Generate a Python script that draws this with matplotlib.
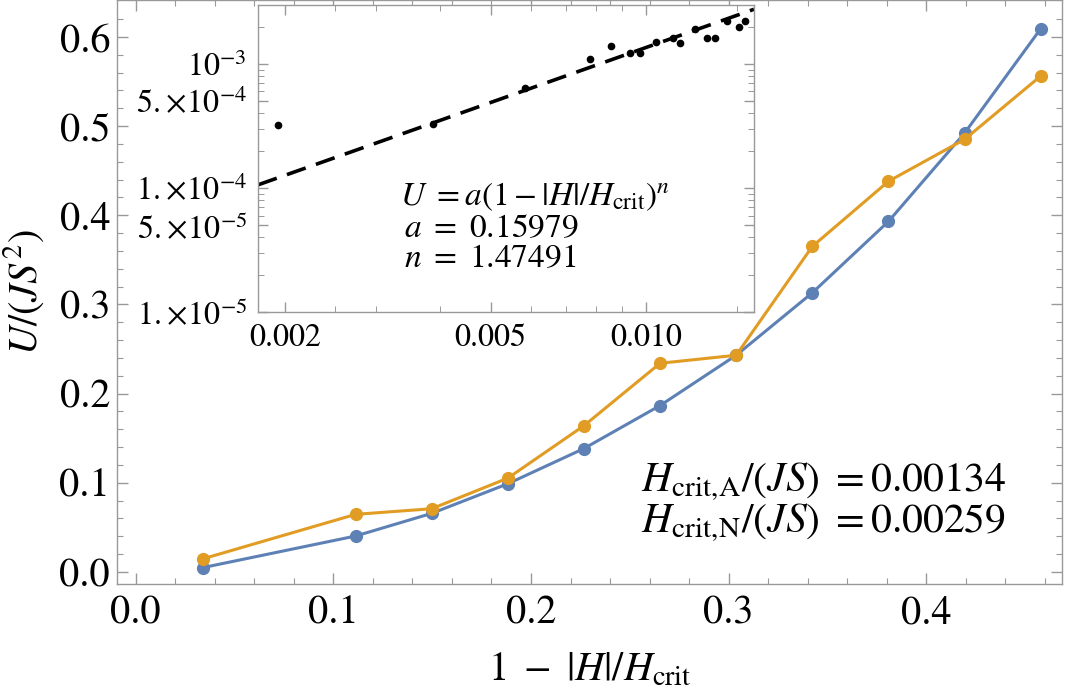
import numpy as np
import matplotlib
matplotlib.use("Agg")
import matplotlib.pyplot as plt
from matplotlib.ticker import FixedLocator, NullFormatter

# data
x_vals = [0.0343, 0.1113, 0.1498, 0.1883, 0.2268, 0.2653, 0.3038, 0.3423, 0.3808, 0.4193, 0.4578]
u_blue = [0.0050, 0.0403, 0.0657, 0.0989, 0.1384, 0.1866, 0.2430, 0.3130, 0.3930, 0.4920, 0.6090]
u_orange = [0.0149, 0.0646, 0.0709, 0.1052, 0.1640, 0.2340, 0.2430, 0.3650, 0.4380, 0.4850, 0.5560]

inset_x = [0.00194, 0.00387, 0.00583, 0.00778, 0.00854, 0.00933, 0.00972, 0.01045,
           0.01127, 0.01161, 0.01246, 0.01314, 0.01361, 0.01434, 0.01511, 0.01553]
inset_u = [3.22e-4, 3.26e-4, 6.37e-4, 1.097e-3, 1.406e-3, 1.234e-3, 1.219e-3, 1.514e-3,
           1.61e-3, 1.486e-3, 1.904e-3, 1.61e-3, 1.63e-3, 2.236e-3, 1.976e-3, 2.236e-3]

# fitted power law drawn in the inset
fit_n = 1.47491
fit_amp = 1.21

inset_xticks = [0.002, 0.005, 0.010]
inset_xlabels = ["0.002", "0.005", "0.010"]
inset_yticks = [1e-3, 5e-4, 1e-4, 5e-5, 1e-5]
inset_ylabels = [r"$10^{-3}$", r"$5.\!\times\!10^{-4}$", r"$1.\!\times\!10^{-4}$",
                 r"$5.\!\times\!10^{-5}$", r"$1.\!\times\!10^{-5}$"]

blue = "#5E81B5"
orange = "#E19C24"
frame = "#999999"

plt.rcParams["font.family"] = ["STIXGeneral", "DejaVu Serif"]
plt.rcParams["mathtext.fontset"] = "stix"

fig = plt.figure(figsize=(10.65, 6.96), dpi=100)
ax = fig.add_axes([117 / 1065, 1 - 584 / 696, 945 / 1065, 584 / 696])

ax.plot(x_vals, u_blue, "-o", color=blue, lw=2.2, ms=8.5, zorder=3)
ax.plot(x_vals, u_orange, "-o", color=orange, lw=2.2, ms=8.5, zorder=3)

ax.set_xlim(-0.0094, 0.4686)
ax.set_ylim(-0.0135, 0.6413)
ax.set_xticks([0.0, 0.1, 0.2, 0.3, 0.4])
ax.set_yticks([0.0, 0.1, 0.2, 0.3, 0.4, 0.5, 0.6])
ax.set_xticklabels(["0.0", "0.1", "0.2", "0.3", "0.4"])
ax.set_yticklabels(["0.0", "0.1", "0.2", "0.3", "0.4", "0.5", "0.6"])
ax.xaxis.set_minor_locator(FixedLocator(np.arange(0.0, 0.47, 0.02)))
ax.yaxis.set_minor_locator(FixedLocator(np.arange(0.0, 0.64, 0.02)))
ax.tick_params(which="both", direction="in", top=True, right=True, color=frame,
               labelsize=29)
ax.tick_params(which="major", length=8, width=1)
ax.tick_params(which="minor", length=4, width=0.8)
ax.tick_params(axis="y", pad=5)
ax.tick_params(axis="x", pad=8)
for s in ax.spines.values():
    s.set_color(frame)
    s.set_linewidth(1)

ax.set_xlabel(r"$1\ -\ |H|/H_{\mathrm{crit}}$", fontsize=29, labelpad=14)
ax.set_ylabel(r"$U/(JS^2)$", fontsize=29, labelpad=10)

ax.text(0.555, 0.175, r"$H_{\mathrm{crit,\!A}}/(JS)\ = 0.00134$", transform=ax.transAxes,
        fontsize=30, va="center", ha="left")
ax.text(0.555, 0.105, r"$H_{\mathrm{crit,\!N}}/(JS)\ = 0.00259$", transform=ax.transAxes,
        fontsize=30, va="center", ha="left")

# inset
axi = fig.add_axes([258 / 1065, 1 - 312 / 696, 496 / 1065, 307 / 696])
axi.set_xscale("log")
axi.set_yscale("log")
axi.set_xlim(0.001774, 0.01618)
axi.set_ylim(1e-5, 2.99e-3)

xf = np.array(axi.get_xlim())
xf = np.geomspace(xf[0], xf[1], 50)
axi.plot(xf, fit_amp * xf ** fit_n, color="black", lw=2.6, dashes=(5.5, 3))
axi.plot(inset_x, inset_u, "o", color="black", ms=4.5, zorder=3)

axi.xaxis.set_major_locator(FixedLocator(inset_xticks))
axi.set_xticklabels(inset_xlabels)
axi.xaxis.set_minor_locator(FixedLocator([0.0025, 0.003, 0.004, 0.006, 0.007, 0.008, 0.009, 0.015]))
axi.xaxis.set_minor_formatter(NullFormatter())
axi.yaxis.set_major_locator(FixedLocator(inset_yticks))
axi.set_yticklabels(inset_ylabels)
ymin = [k * 10.0 ** e for e in (-5, -4, -3) for k in range(2, 10)]
axi.yaxis.set_minor_locator(FixedLocator(ymin))
axi.yaxis.set_minor_formatter(NullFormatter())
axi.tick_params(which="both", direction="in", top=True, right=True, color=frame,
                labelsize=23)
axi.tick_params(which="major", length=7, width=1)
axi.tick_params(which="minor", length=4, width=0.7)
axi.tick_params(axis="y", pad=8)
axi.tick_params(axis="x", pad=8)
for s in axi.spines.values():
    s.set_color(frame)
    s.set_linewidth(1)

axi.text(0.286, 0.375, r"$U\ = a(1-|H|/H_{\mathrm{crit}})^n$", transform=axi.transAxes,
         fontsize=24, va="center", ha="left")
axi.text(0.295, 0.27, r"$a\ =\ 0.15979$", transform=axi.transAxes,
         fontsize=24, va="center", ha="left")
axi.text(0.295, 0.17, r"$n\ =\ 1.47491$", transform=axi.transAxes,
         fontsize=24, va="center", ha="left")

fig.savefig("out.png", dpi=100)
